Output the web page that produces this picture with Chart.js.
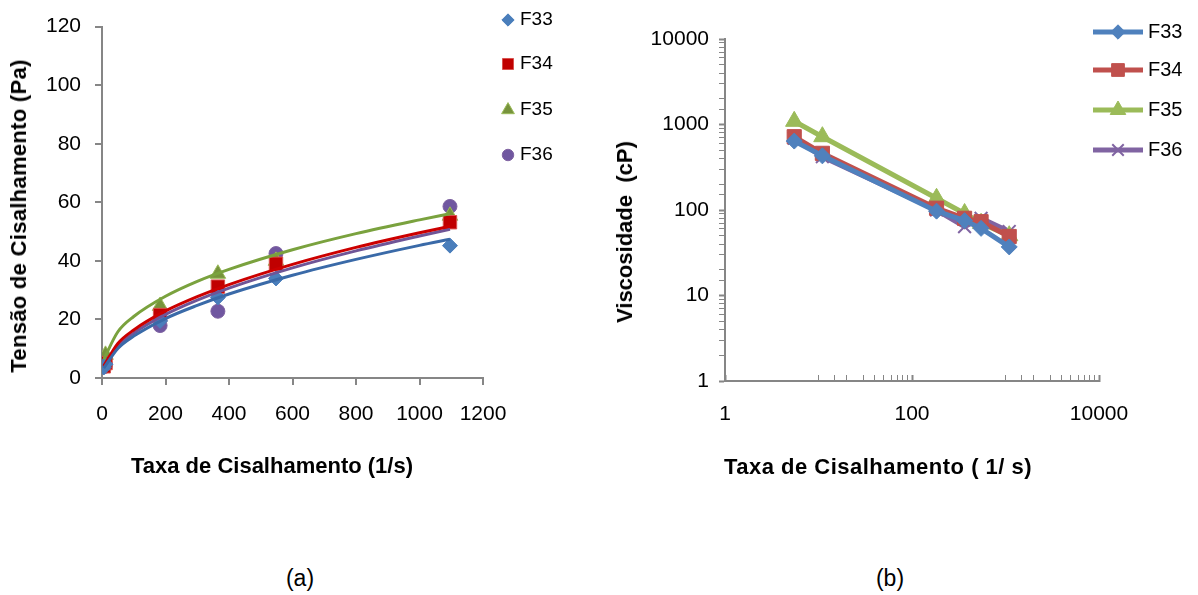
<!DOCTYPE html>
<html>
<head>
<meta charset="utf-8">
<script src="https://cdn.jsdelivr.net/npm/chart.js@4.4.0/dist/chart.umd.min.js"></script>
<style>
  body { margin:0; background:#fff; width:1198px; height:595px; position:relative; overflow:hidden; font-family:"Liberation Sans", Arial, sans-serif; }
  canvas { position:absolute; top:0; }
  #chartA { left:0; }
  #chartB { left:590px; }
  .lbl { position:absolute; white-space:nowrap; color:#000; transform:translate(-50%,-50%); }
  .tit { font-weight:bold; font-size:22px; }
  .rot { transform:translate(-50%,-50%) rotate(-90deg); }
  .sub { font-size:23px; }
</style>
</head>
<body>
<canvas id="chartA" width="590" height="500"></canvas>
<canvas id="chartB" width="608" height="500"></canvas>

<div class="lbl tit rot" style="left:19px; top:216px; letter-spacing:0.3px;">Tensão de Cisalhamento (Pa)</div>
<div class="lbl tit" style="left:272px; top:466px;">Taxa de Cisalhamento (1/s)</div>
<div class="lbl tit rot" style="left:625px; top:232px;">Viscosidade&nbsp; (cP)</div>
<div class="lbl tit" style="left:878px; top:467px; letter-spacing:0.5px;">Taxa de Cisalhamento ( 1/ s)</div>
<div class="lbl sub" style="left:300px; top:578px;">(a)</div>
<div class="lbl sub" style="left:890px; top:578px;">(b)</div>

<script>
const FONT = '"Liberation Sans", Arial, sans-serif';

// amostras
const seriesNames = ['F33', 'F34', 'F35', 'F36'];
const shearRate = [5.5, 11, 183, 365, 548, 1096];

// (a) tensão de cisalhamento, Pa
const stressF33 = [3.6, 4.7, 19.5, 27.5, 34.0, 45.2];
const stressF34 = [4.0, 5.1, 21.5, 31.2, 39.0, 53.2];
const stressF35 = [6.2, 7.9, 24.6, 35.6, 40.0, 55.4];
const stressF36 = [3.8, 4.6, 17.9, 22.8, 42.5, 58.6];

// linhas de tendência
const trendRate = [5.5, 50, 100, 200, 300, 400, 600, 800, 1000, 1096];
const trendF33 = [3.4, 10.1, 14.3, 20.3, 24.8, 28.7, 35.1, 40.5, 45.3, 47.4];
const trendF34 = [4.1, 11.8, 16.4, 22.9, 27.8, 31.9, 38.8, 44.6, 49.6, 51.8];
const trendF35 = [6.4, 15.8, 21.0, 27.9, 33.0, 37.1, 43.8, 49.3, 54.0, 56.1];
const trendF36 = [3.6, 10.8, 15.3, 21.7, 26.6, 30.7, 37.6, 43.4, 48.5, 50.8];

// (b) viscosidade, cP
const viscF33 = [640, 430, 97, 75, 61, 37];
const viscF34 = [720, 460, 105, 80, 73, 49];
const viscF35 = [1090, 720, 137, 91, 70, 50];
const viscF36 = [690, 420, 100, 64, 80, 56];

const logLabelsY = [1, 10, 100, 1000, 10000];
const logLabelsX = [1, 100, 10000];

const pts = (xs, ys) => xs.map((x, i) => ({ x: x, y: ys[i] }));

const markerLegend = {
    id: 'markerLegend',
    afterDraw(chart, args, opts) {
        const ctx = chart.ctx;
        ctx.save();
        chart.data.datasets.filter(d => !d.isTrend).forEach((ds, i) => {
            const y = opts.rows[i];
            if (opts.line) {
                ctx.strokeStyle = ds.borderColor;
                ctx.lineWidth = ds.borderWidth;
                ctx.beginPath();
                ctx.moveTo(opts.lineX0, y);
                ctx.lineTo(opts.lineX1, y);
                ctx.stroke();
            }
            ctx.fillStyle = ds.backgroundColor;
            ctx.strokeStyle = ds.borderColor;
            ctx.lineWidth = ds.pointBorderWidth || 1;
            Chart.helpers.drawPoint(ctx, {
                pointStyle: ds.pointStyle, radius: ds.pointRadius * opts.scale,
                borderWidth: ds.pointBorderWidth || 1, rotation: 0
            }, opts.markerX, y);
            ctx.fillStyle = '#000';
            ctx.font = opts.size + 'px ' + FONT;
            ctx.textBaseline = 'middle';
            ctx.textAlign = 'left';
            ctx.fillText(ds.label, opts.textX, y);
        });
        ctx.restore();
    }
};

const axisGrey = '#868686';
function baseAxis(extra) {
    return Object.assign({
        grid: { drawOnChartArea: false, tickLength: 7, color: axisGrey, lineWidth: 2 },
        border: { color: axisGrey, width: 2 }
    }, extra);
}

// ---------- (a) ----------
const markA = [
    { style: 'rectRot', r: 7.5, fill: '#4A7EBB', edge: '#4A7EBB', line: '#3A6AA8', data: stressF33, trend: trendF33 },
    { style: 'rect', r: 9.5, fill: '#C00000', edge: '#D9534F', line: '#CC0000', data: stressF34, trend: trendF34 },
    { style: 'triangle', r: 9, fill: '#77933C', edge: '#9BBB59', line: '#7AA23E', data: stressF35, trend: trendF35 },
    { style: 'circle', r: 7, fill: '#7057A0', edge: '#8064A2', line: '#6F5597', data: stressF36, trend: trendF36 }
];
const datasetsA = [];
markA.forEach((m, i) => {
    datasetsA.push({
        label: seriesNames[i], data: pts(shearRate, m.data), pointStyle: m.style, pointRadius: m.r,
        backgroundColor: m.fill, borderColor: m.edge, pointBorderWidth: 1, showLine: false, order: 1
    });
});
markA.forEach((m, i) => {
    datasetsA.push({
        label: 'tend ' + seriesNames[i], isTrend: true, data: pts(trendRate, m.trend), showLine: true,
        borderColor: m.line, borderWidth: 3, pointRadius: 0, cubicInterpolationMode: 'monotone', order: 0
    });
});

new Chart(document.getElementById('chartA'), {
    type: 'scatter',
    data: { datasets: datasetsA },
    plugins: [markerLegend],
    options: {
        responsive: false, animation: false, devicePixelRatio: 1,
        layout: { padding: { left: 0, top: 21, right: 107, bottom: 0 } },
        plugins: {
            legend: { display: false }, tooltip: { enabled: false },
            markerLegend: { line: false, markerX: 508, textX: 520, rows: [20, 64, 110, 155], size: 19, scale: 0.82 }
        },
        scales: {
            x: baseAxis({
                type: 'linear', min: 0, max: 1200,
                ticks: { stepSize: 200, color: '#000', font: { family: FONT, size: 21 }, padding: 17, maxRotation: 0,
                         callback: v => String(v) },
                afterFit: s => { s.height = 122; }
            }),
            y: baseAxis({
                type: 'linear', min: 0, max: 120,
                ticks: { stepSize: 20, color: '#000', font: { family: FONT, size: 21 }, padding: 14 },
                afterFit: s => { s.width = 102; }
            })
        }
    }
});

// ---------- (b) ----------
const markB = [
    { style: 'rectRot', r: 8, color: '#4F81BD', data: viscF33 },
    { style: 'rect', r: 10, color: '#C0504D', data: viscF34 },
    { style: 'triangle', r: 10, color: '#9BBB59', data: viscF35 },
    { style: 'crossRot', r: 9, color: '#8064A2', data: viscF36 }
];
const datasetsB = markB.map((m, i) => ({
    label: seriesNames[i], data: pts(shearRate, m.data), showLine: true,
    pointStyle: m.style, pointRadius: m.r, pointBorderWidth: m.style === 'crossRot' ? 2 : 1,
    backgroundColor: m.color, borderColor: m.color, borderWidth: 5
}));

const isPow10 = v => Math.abs(Math.log10(v) - Math.round(Math.log10(v))) < 1e-9;
// eixo x: marcas menores só nas décadas 10-100 e 1000-10000
const xMinorShown = v => isPow10(v) || (v > 10 && v < 100) || (v > 1000 && v < 10000);

new Chart(document.getElementById('chartB'), {
    type: 'scatter',
    data: { datasets: datasetsB },
    plugins: [markerLegend],
    options: {
        responsive: false, animation: false, devicePixelRatio: 1,
        layout: { padding: { left: 0, top: 39, right: 99, bottom: 0 } },
        plugins: {
            legend: { display: false }, tooltip: { enabled: false },
            markerLegend: { line: true, lineX0: 503, lineX1: 553, markerX: 528, textX: 558, rows: [32, 70, 110, 150], size: 20, scale: 0.9 }
        },
        scales: {
            x: baseAxis({
                type: 'logarithmic', min: 1, max: 10000,
                grid: {
                    drawOnChartArea: false, tickLength: -6, color: axisGrey,
                    tickColor: c => (c.tick && xMinorShown(c.tick.value)) ? axisGrey : 'rgba(0,0,0,0)',
                    tickWidth: c => (c.tick && logLabelsX.includes(c.tick.value)) ? 2 : 1
                },
                ticks: {
                    autoSkip: false, maxRotation: 0, color: '#000', font: { family: FONT, size: 21 }, padding: 27,
                    callback: v => logLabelsX.includes(v) ? String(v) : ''
                },
                afterFit: s => { s.height = 119; }
            }),
            y: baseAxis({
                type: 'logarithmic', min: 1, max: 10000,
                grid: {
                    drawOnChartArea: false, tickLength: 6, color: axisGrey,
                    tickWidth: c => (c.tick && isPow10(c.tick.value)) ? 2 : 1
                },
                ticks: {
                    autoSkip: false, color: '#000', font: { family: FONT, size: 21 }, padding: 10,
                    callback: v => logLabelsY.includes(v) ? String(v) : ''
                },
                afterFit: s => { s.width = 135; }
            })
        }
    }
});
</script>
</body>
</html>
